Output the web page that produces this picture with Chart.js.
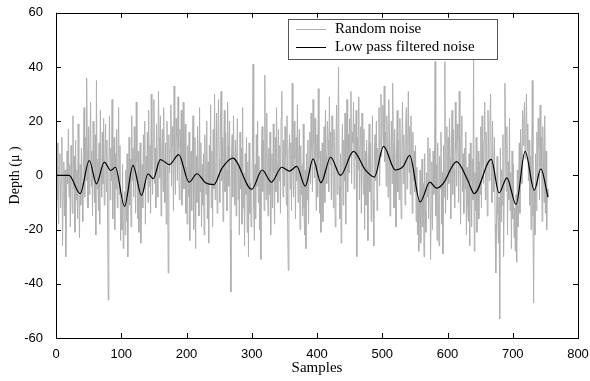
<!DOCTYPE html>
<html>
<head>
<meta charset="utf-8">
<script src="https://cdn.jsdelivr.net/npm/chart.js@4.4.0/dist/chart.umd.min.js"></script>
<style>
html, body { margin: 0; padding: 0; background: #fff; }
</style>
</head>
<body>
<canvas id="noiseChart" width="590" height="381"></canvas>
<script>
// raw noise, one value per sample
const noiseStep = 1;
const noise = [
    6, -4, 12, -9, -18, 3, 8, -12, -2, 14, -26, -7, 5, -15, 2, -30, -11, 9, -3, 17, -8, 4, -19, 11, 0,
    -14, 22, -5, 7, -21, 13, -9, 2, -16, 19, -6, -23, 4, -11, 10, -3, -17, 8, 25, -8, 14, -2, 36, 9, -12,
    18, -7, 11, 27, -4, 9, -15, 20, 3, -10, 15, -22, 35, -5, 6, -13, 12, -18, 24, 1, -8, 16, -3, 21, -11,
    7, 19, -6, 13, -14, -46, 4, 22, -9, 10, -2, 28, -16, 5, 14, -20, 8, -5, 17, -12, 3, 25, -7, 11, -24,
    -9, -20, 4, -27, -13, -6, -22, 2, -17, 8, -30, -4, 14, -11, 6, -19, 22, -2, 10, -8, 18, 1, -14, 27, 5,
    -16, 9, -21, -3, 12, -25, -8, 4, -12, 15, -5, 20, -18, 7, -1, 16, -10, 24, -4, 11, -14, 30, 2, -7, 13,
    28, -3, 10, -12, 19, 5, -8, 31, 14, -1, 22, -15, 8, 17, -6, 25, 3, -10, 12, -18, 20, 7, -36, 15, 1,
    9, 26, -4, 18, 11, -13, 33, 6, -7, 21, 14, -2, 29, 10, -9, 17, 4, 24, -11, 13, 27, -5, 8, 19, -14,
    3, -18, 11, -8, 16, -24, -3, 9, -13, 6, 22, -20, -1, 14, -27, 7, -10, 18, 2, -15, 25, -6, 12, -19, 4,
    -11, 8, -22, 15, 1, -7, 20, -16, 5, -25, 11, -3, 26, -12, 9, -19, 17, -5, 30, -9, 2, 23, -14, 13, 28,
    6, -10, 19, 31, -2, 14, -17, 9, 24, -6, 16, 2, -13, 27, 11, -4, 20, -20, -43, 8, 15, -8, 22, 4, -11,
    13, -15, 7, 21, -9, 3, -22, 16, -5, 10, -18, 25, -12, 1, -26, 8, -7, 14, -21, 5, -30, 12, -14, -3, -19,
    -8, 9, 41, -12, -24, 4, -16, 15, -4, 20, -10, 7, -20, 2, -31, 11, 18, -6, 13, -13, 37, 5, -9, 23, -2,
    -15, 10, -7, 16, -22, -3, 8, -12, 19, 1, -18, 14, -6, 25, 4, -10, 17, -2, 11, -14, 21, 31, 6, -8, 13,
    -4, 18, 7, -11, 22, -17, -35, 9, 15, -5, 12, -13, 34, 3, -8, 20, 6, -16, 14, -2, 26, -10, 8, 17, -20,
    11, -7, 4, -15, 19, -12, -22, 2, -27, 8, -9, 13, -18, 5, 16, -3, 23, 10, -6, 28, 12, -1, 21, 7, -13,
    15, -8, 32, 6, -14, 9, -21, -5, 12, -17, 3, 18, -10, 24, 7, -3, 20, 13, -6, 29, 4, 16, -9, 22, 10,
    -12, 17, 2, -19, 11, 26, -7, 14, 40, -4, -16, 8, -25, 5, 19, -11, 13, -2, 23, -18, 9, 28, -6, 15, 1,
    21, 8, 31, -3, 16, 12, 27, -5, 19, 6, 24, -30, 14, 2, 29, -9, 11, 18, -14, 23, 5, -7, 17, -20, 9,
    -11, 13, 3, -24, 8, 19, -6, 12, -17, 1, 22, -9, -26, 6, 15, -2, 20, -13, 10, 4, 25, -4, 14, 30, 7,
    19, 26, 11, 33, 5, 16, -4, 22, 9, -8, 28, 14, -15, 6, 20, -3, 34, 8, -12, 17, 2, -19, 11, 24, -6,
    13, -9, 21, 4, -16, 10, 27, -3, 15, 6, -11, 19, 25, -5, 12, 31, 1, 18, -7, 22, 8, -14, 16, -2, 9,
    -6, 11, -17, 3, -22, -9, -28, -14, 2, -25, -11, 6, -19, -3, -30, 8, -13, -21, 1, -8, 14, -16, -4, 10, -31,
    -12, 5, -20, 9, -7, -2, 42, -15, 4, -24, 12, -10, -26, 7, -5, 16, -18, 1, -29, 11, -8, 42, -14, 3, 18,
    -9, 14, -3, 21, 6, -16, 11, 24, -7, 17, 2, -12, 27, 9, -4, 19, 13, -10, 31, 5, -18, 15, 22, -6, 8,
    -14, 10, -5, 16, -22, 3, -11, -17, 8, -26, 12, -2, -19, 6, -9, 44, -28, 1, -13, 14, -21, -4, 9, -16, 5,
    -7, 18, -12, 22, 4, -3, 13, 27, -9, 16, 8, -15, 24, 11, -2, 19, 30, 6, -10, 20, 3, -6, 14, -18, -36,
    -20, 7, -14, -25, -8, -53, 10, -17, 2, -11, 15, -30, -3, 34, 12, -6, 18, -22, 5, -9, 21, -13, 1, -27, 9,
    -16, 4, -23, -12, -28, -7, -32, 2, -19, -4, 12, -14, 17, 8, -3, 24, 11, 20, 27, 6, 15, 30, 9, 19, -2,
    13, -11, 7, -20, 4, 35, -15, -47, -6, -22, 8, -13, 16, -4, 21, 10, -9, 26, 3, 14, -17, 18, 6, -10, 22,
    -14, 9, -20, -5, -8
];

// low pass curve, turning points
const filtX = [0, 20, 37, 51, 62, 74, 84, 91, 105, 118, 131, 141, 149, 160, 174, 188, 204, 216, 229, 242,
    254, 271, 300, 316, 330, 346, 358, 369, 382, 394, 406, 421, 436, 456, 474, 488, 502, 520, 532, 542,
    558, 573, 583, 593, 614, 631, 641, 667, 679, 691, 705, 719, 733, 743, 754];
const filtY = [0, 0, -6.7, 5.5, -3.1, 4.9, 1.8, 3, -11.4, 3.7, -7.4, 0.6, -1.2, 5.8, 4, 7.7, -2.5, 0.6, -2.7, -3.4,
    2.5, 6.4, -5.1, 2, -2.5, 3, 1.6, 3.3, -4, 6.1, -2.7, 6.7, 0, 8.9, 2, -0.6, 10.7, 2, 3.3, 7.4,
    -9.8, -2.5, -4.7, -3.1, 5.1, -1.8, -6.7, 5.9, -6.5, -0.9, -10.7, 8.9, -5.5, 2.4, -8];

const xTicks = [0, 100, 200, 300, 400, 500, 600, 700, 800];
const yTicks = [-60, -40, -20, 0, 20, 40, 60];

const seriesNames = ['Random noise', 'Low pass filtered noise'];
const seriesColors = ['#b0b0b0', '#000000'];

const tickFont = { family: 'Liberation Sans', size: 13 };
const serif = 'Liberation Serif';

const frame = {
    id: 'frame',
    afterDatasetsDraw(chart) {
        const ctx = chart.ctx;
        const a = chart.chartArea;
        const sx = chart.scales.x;
        const sy = chart.scales.y;
        ctx.save();
        ctx.strokeStyle = '#000';
        ctx.lineWidth = 1;
        ctx.strokeRect(Math.round(a.left) + 0.5, Math.round(a.top) + 0.5,
            Math.round(a.right - a.left), Math.round(a.bottom - a.top));
        ctx.beginPath();
        xTicks.forEach(v => {
            const px = Math.round(sx.getPixelForValue(v)) + 0.5;
            ctx.moveTo(px, a.bottom); ctx.lineTo(px, a.bottom - 5);
            ctx.moveTo(px, a.top); ctx.lineTo(px, a.top + 5);
        });
        yTicks.forEach(v => {
            const py = Math.round(sy.getPixelForValue(v)) + 0.5;
            ctx.moveTo(a.left, py); ctx.lineTo(a.left + 5, py);
            ctx.moveTo(a.right, py); ctx.lineTo(a.right - 5, py);
        });
        ctx.stroke();

        // legend box
        const lx = 288, ly = 19, lw = 209, lh = 40;
        ctx.fillStyle = '#fff';
        ctx.fillRect(lx, ly, lw, lh);
        ctx.strokeStyle = '#555';
        ctx.strokeRect(lx + 0.5, ly + 0.5, lw, lh);
        ctx.font = '15px "' + serif + '"';
        ctx.textBaseline = 'middle';
        ctx.fillStyle = '#000';
        seriesNames.forEach((name, i) => {
            const y = ly + 10 + i * 18;
            ctx.strokeStyle = seriesColors[i];
            ctx.beginPath();
            ctx.moveTo(lx + 8, Math.round(y) + 0.5);
            ctx.lineTo(lx + 38, Math.round(y) + 0.5);
            ctx.stroke();
            ctx.fillText(name, lx + 47, y);
        });
        ctx.restore();
    }
};

new Chart(document.getElementById('noiseChart'), {
    type: 'line',
    data: {
        datasets: [
            {
                label: seriesNames[0],
                data: noise.map((v, i) => ({ x: i * noiseStep, y: v })),
                borderColor: seriesColors[0],
                borderWidth: 1,
                pointRadius: 0,
                tension: 0,
                order: 1
            },
            {
                label: seriesNames[1],
                data: filtX.map((x, i) => ({ x: x, y: filtY[i] })),
                borderColor: seriesColors[1],
                borderWidth: 1.2,
                pointRadius: 0,
                cubicInterpolationMode: 'monotone',
                order: 0
            }
        ]
    },
    options: {
        responsive: false,
        animation: false,
        events: [],
        layout: { padding: { top: 11, right: 12, left: 0, bottom: 0 } },
        plugins: { legend: { display: false }, tooltip: { enabled: false } },
        scales: {
            x: {
                type: 'linear',
                min: 0,
                max: 800,
                afterBuildTicks: s => { s.ticks = xTicks.map(v => ({ value: v })); },
                afterFit: s => { s.height = 43; },
                grid: { display: false },
                border: { display: false },
                ticks: { font: tickFont, color: '#000', maxRotation: 0, padding: 1 },
                title: { display: true, text: 'Samples', font: { family: serif, size: 15 }, color: '#000', padding: { top: 4 } }
            },
            y: {
                min: -60,
                max: 60,
                afterBuildTicks: s => { s.ticks = yTicks.map(v => ({ value: v })); },
                afterFit: s => { s.width = 56; },
                grid: { display: false },
                border: { display: false },
                ticks: { font: tickFont, color: '#000', padding: 5 },
                title: { display: true, text: 'Depth (μ )', font: { family: serif, size: 14 }, color: '#000', padding: { top: 7, bottom: 0 } }
            }
        }
    },
    plugins: [frame]
});
</script>
</body>
</html>
